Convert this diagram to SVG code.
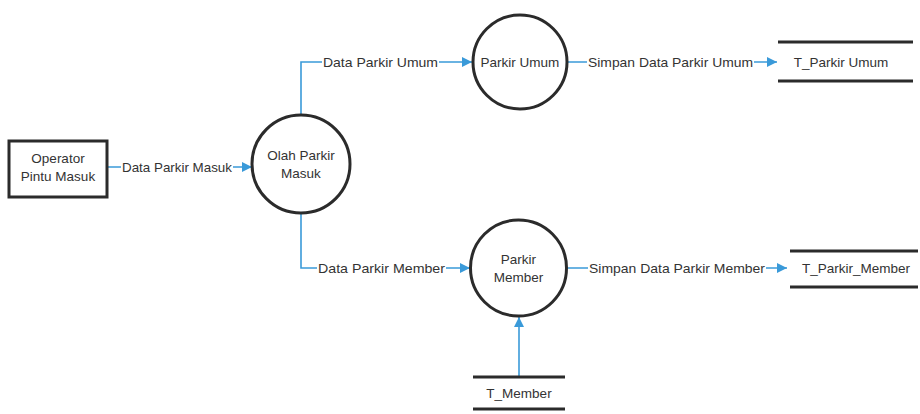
<svg xmlns="http://www.w3.org/2000/svg" width="920" height="414" viewBox="0 0 920 414">
  <style>
    .bg { fill: #ffffff; }
    .proc { fill: #ffffff; stroke: #2b2b2b; stroke-width: 3; }
    .ext { fill: #ffffff; stroke: #2b2b2b; stroke-width: 3; }
    .store { stroke: #2b2b2b; stroke-width: 3; }
    .flow { fill: none; stroke: #3a9ad9; stroke-width: 1.6; }
    .lbl { font-family: "Liberation Sans", Arial, sans-serif; font-size: 13.5px; fill: #333333; }
    .lblbg { fill: #ffffff; }
  </style>
  <defs>
    <marker id="arrow" viewBox="0 0 10 10" refX="10" refY="5" markerWidth="10" markerHeight="10" markerUnits="userSpaceOnUse" orient="auto">
      <path d="M0,0 L10,5 L0,10 z" fill="#3a9ad9"/>
    </marker>
  </defs>
  <rect class="bg" x="0" y="0" width="920" height="414"/>

  <g id="connectors">
    <line class="flow" x1="108" y1="167" x2="252" y2="167" marker-end="url(#arrow)"/>
    <polyline class="flow" points="301,115 301,62 472,62" marker-end="url(#arrow)"/>
    <polyline class="flow" points="301,214 301,268 470,268" marker-end="url(#arrow)"/>
    <line class="flow" x1="568" y1="62" x2="777" y2="62" marker-end="url(#arrow)"/>
    <line class="flow" x1="567" y1="268" x2="787" y2="268" marker-end="url(#arrow)"/>
    <line class="flow" x1="519" y1="377" x2="519" y2="317" marker-end="url(#arrow)"/>

    <rect class="lblbg" x="121" y="159" width="112" height="16"/>
    <text class="lbl" x="122" y="172" textLength="110" lengthAdjust="spacingAndGlyphs">Data Parkir Masuk</text>
    <rect class="lblbg" x="322" y="54" width="117" height="16"/>
    <text class="lbl" x="323" y="67" textLength="115" lengthAdjust="spacingAndGlyphs">Data Parkir Umum</text>
    <rect class="lblbg" x="317" y="260" width="129" height="16"/>
    <text class="lbl" x="318" y="273" textLength="127" lengthAdjust="spacingAndGlyphs">Data Parkir Member</text>
    <rect class="lblbg" x="587" y="54" width="167" height="16"/>
    <text class="lbl" x="588" y="67" textLength="165" lengthAdjust="spacingAndGlyphs">Simpan Data Parkir Umum</text>
    <rect class="lblbg" x="588" y="260" width="178" height="16"/>
    <text class="lbl" x="589" y="273" textLength="176" lengthAdjust="spacingAndGlyphs">Simpan Data Parkir Member</text>
  </g>

  <g id="operator-pintu-masuk">
    <rect class="ext" x="9" y="141" width="98" height="56"/>
    <text class="lbl" x="58" y="163" text-anchor="middle">Operator</text>
    <text class="lbl" x="58" y="181" text-anchor="middle">Pintu Masuk</text>
  </g>

  <g id="olah-parkir-masuk">
    <circle class="proc" cx="301" cy="164" r="49"/>
    <text class="lbl" x="301" y="160" text-anchor="middle">Olah Parkir</text>
    <text class="lbl" x="301" y="178" text-anchor="middle">Masuk</text>
  </g>

  <g id="parkir-umum">
    <circle class="proc" cx="520" cy="62" r="47"/>
    <text class="lbl" x="520" y="67" text-anchor="middle">Parkir Umum</text>
  </g>

  <g id="parkir-member">
    <circle class="proc" cx="518.5" cy="268" r="48"/>
    <text class="lbl" x="518.5" y="264" text-anchor="middle">Parkir</text>
    <text class="lbl" x="518.5" y="282" text-anchor="middle">Member</text>
  </g>

  <g id="t-parkir-umum">
    <line class="store" x1="778" y1="42" x2="913" y2="42"/>
    <line class="store" x1="778" y1="81" x2="913" y2="81"/>
    <text class="lbl" x="841" y="67" text-anchor="middle">T_Parkir Umum</text>
  </g>

  <g id="t-parkir-member">
    <line class="store" x1="790" y1="251" x2="918" y2="251"/>
    <line class="store" x1="790" y1="287" x2="918" y2="287"/>
    <text class="lbl" x="856" y="273" text-anchor="middle">T_Parkir_Member</text>
  </g>

  <g id="t-member">
    <line class="store" x1="473" y1="377" x2="565" y2="377"/>
    <line class="store" x1="473" y1="409" x2="565" y2="409"/>
    <text class="lbl" x="519" y="398" text-anchor="middle">T_Member</text>
  </g>
</svg>
